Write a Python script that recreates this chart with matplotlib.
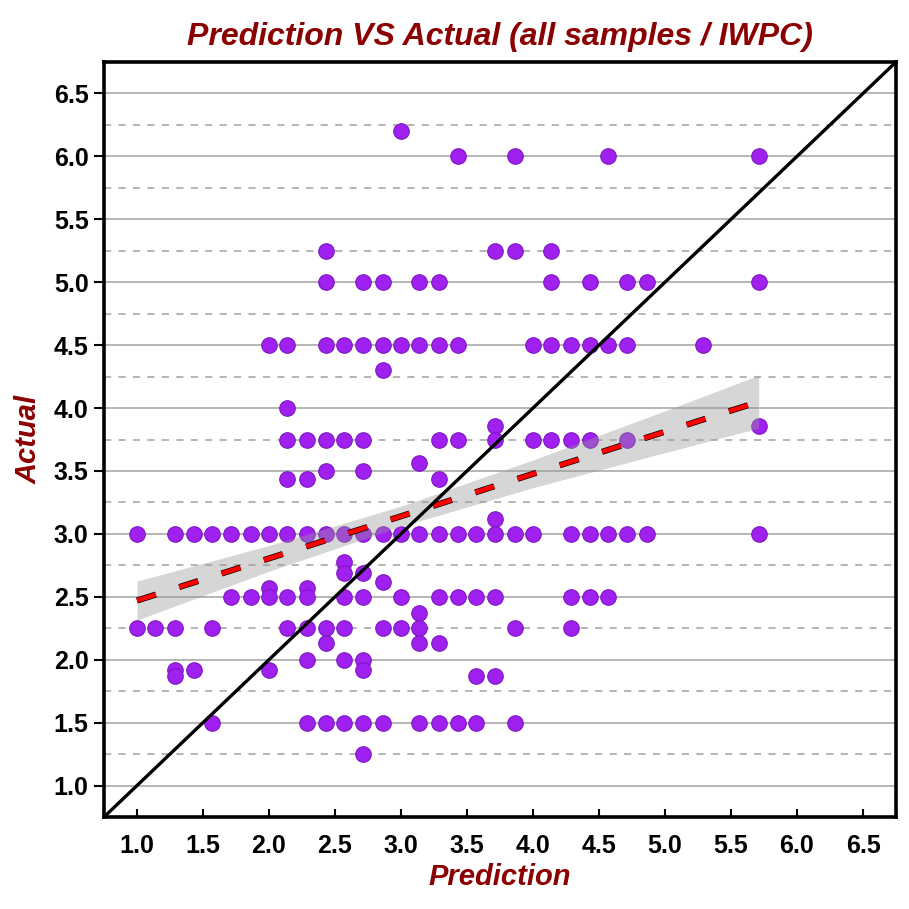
import matplotlib
matplotlib.use("Agg")
import matplotlib.pyplot as plt
import matplotlib.patheffects as pe
import numpy as np

# predictions, grouped by the actual value of each row
actual_levels = [6.2, 6.0, 5.25, 5.0, 4.5, 4.3, 4.0, 3.86, 3.75, 3.56, 3.5, 3.44,
                 3.12, 3.0, 2.78, 2.69, 2.62, 2.57, 2.5, 2.37, 2.25, 2.13, 2.0,
                 1.92, 1.87, 1.5, 1.25]
predictions_by_level = [
    [3.0],
    [3.43, 3.86, 4.57, 5.71],
    [2.43, 3.71, 3.86, 4.14],
    [2.43, 2.71, 2.86, 3.14, 3.29, 4.14, 4.43, 4.71, 4.86, 5.71],
    [2.0, 2.14, 2.43, 2.57, 2.71, 2.86, 3.0, 3.14, 3.29, 3.43, 4.0, 4.14, 4.29,
     4.43, 4.57, 4.71, 5.29],
    [2.86],
    [2.14],
    [3.71, 5.71],
    [2.14, 2.29, 2.43, 2.57, 2.71, 3.29, 3.43, 3.71, 4.0, 4.14, 4.29, 4.43, 4.71],
    [3.14],
    [2.43, 2.71],
    [2.14, 2.29, 3.29],
    [3.71],
    [1.0, 1.29, 1.43, 1.57, 1.71, 1.86, 2.0, 2.14, 2.29, 2.43, 2.57, 2.71, 2.86,
     3.0, 3.14, 3.29, 3.43, 3.57, 3.71, 3.86, 4.0, 4.29, 4.43, 4.57, 4.71, 4.86,
     5.71],
    [2.57],
    [2.57, 2.71],
    [2.86],
    [2.0, 2.29],
    [1.71, 1.86, 2.0, 2.14, 2.29, 2.57, 2.71, 3.0, 3.29, 3.43, 3.57, 3.71, 4.29,
     4.43, 4.57],
    [3.14],
    [1.0, 1.14, 1.29, 1.57, 2.14, 2.29, 2.43, 2.57, 2.86, 3.0, 3.14, 3.86, 4.29],
    [2.43, 3.14, 3.29],
    [2.29, 2.57, 2.71],
    [1.29, 1.43, 2.0, 2.71],
    [1.29, 3.57, 3.71],
    [1.57, 2.29, 2.43, 2.57, 2.71, 2.86, 3.14, 3.29, 3.43, 3.57, 3.86],
    [2.71],
]

# fitted trend line and its confidence band
fit_x = [1.0, 2.0, 3.0, 4.0, 5.0, 5.71]
fit_y = [2.47, 2.805, 3.14, 3.477, 3.812, 4.05]
band_lower = [2.315, 2.703, 3.06, 3.367, 3.646, 3.84]
band_upper = [2.625, 2.907, 3.22, 3.587, 3.978, 4.26]

x_ticks = [1.0, 1.5, 2.0, 2.5, 3.0, 3.5, 4.0, 4.5, 5.0, 5.5, 6.0, 6.5]
y_ticks = [1.0, 1.5, 2.0, 2.5, 3.0, 3.5, 4.0, 4.5, 5.0, 5.5, 6.0, 6.5]
limits = (0.75, 6.75)

pred = np.concatenate([np.array(p) for p in predictions_by_level])
act = np.concatenate([np.full(len(p), a) for a, p in zip(actual_levels, predictions_by_level)])

plt.rcParams['font.family'] = ['Liberation Sans', 'DejaVu Sans']
fig = plt.figure(figsize=(9.09, 9.09), dpi=100)
ax = fig.add_axes([0.1144, 0.1012, 0.8713, 0.8306])

# horizontal grid: solid at major, dashed at minor
for v in y_ticks:
    ax.axhline(v, color='#b0b0b0', lw=1.3, zorder=0)
for v in y_ticks[:-1]:
    ax.axhline(v + 0.25, color='#b0b0b0', lw=1.3, ls=(0, (4, 4)), zorder=0)
ax.axhline(y_ticks[0] - 0.25 + 0.001, color='#b0b0b0', lw=1.3, ls=(0, (4, 4)), zorder=0)

ax.scatter(pred, act, s=125, c='#A020F0', edgecolors='#7d18c0', linewidths=0.8, zorder=2)
ax.fill_between(fit_x, band_lower, band_upper, color='#999999', alpha=0.4, lw=0, zorder=3)
ax.plot(fit_x, fit_y, color='red', lw=3.4, ls=(0, (4.2, 5.2)), zorder=4,
        path_effects=[pe.Stroke(linewidth=4.4, foreground='black'), pe.Normal()])
ax.plot(limits, limits, color='black', lw=2.4, zorder=5)

ax.set_xlim(limits)
ax.set_ylim(limits)
ax.set_xticks(x_ticks)
ax.set_yticks(y_ticks)
ax.set_xticklabels([f"{t:.1f}" for t in x_ticks], fontsize=18, fontweight='bold')
ax.set_yticklabels([f"{t:.1f}" for t in y_ticks], fontsize=18, fontweight='bold')
ax.tick_params(axis='x', direction='in', length=6, width=1.5, pad=12)
ax.tick_params(axis='y', direction='out', length=7, width=1.5, pad=4)
for sp in ax.spines.values():
    sp.set_linewidth(2.6)
    sp.set_color('black')

ax.set_title("Prediction VS Actual (all samples / IWPC)", fontsize=23, fontweight='bold',
             fontstyle='italic', color='#8B0000', pad=12)
ax.set_xlabel("Prediction", fontsize=21, fontweight='bold', fontstyle='italic',
              color='#8B0000', labelpad=4)
ax.set_ylabel("Actual", fontsize=21, fontweight='bold', fontstyle='italic',
              color='#8B0000', labelpad=8)

fig.savefig("out.png", dpi=100)
